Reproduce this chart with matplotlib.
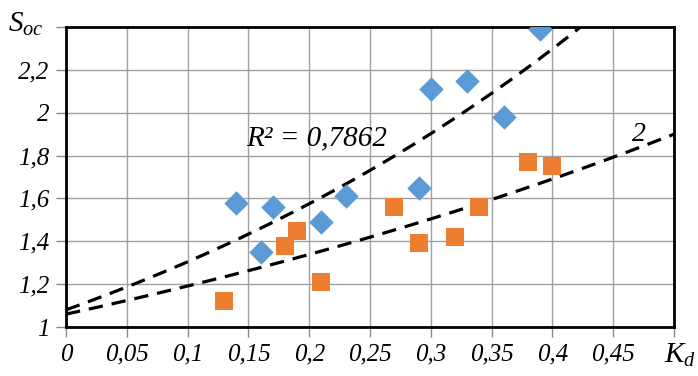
import numpy as np
import matplotlib
matplotlib.use('Agg')
from matplotlib import pyplot as plt

plt.rcParams['font.family'] = 'Liberation Serif'
plt.rcParams['font.style'] = 'italic'
plt.rcParams['mathtext.fontset'] = 'custom'
plt.rcParams['mathtext.it'] = 'Liberation Serif:italic'
plt.rcParams['mathtext.rm'] = 'Liberation Serif:italic'

# series 1 (blue diamonds)
kd_1 = [0.14, 0.16, 0.17, 0.21, 0.23, 0.29, 0.30, 0.33, 0.36, 0.39]
soc_1 = [1.58, 1.35, 1.56, 1.49, 1.61, 1.65, 2.11, 2.15, 1.98, 2.39]

# series 2 (orange squares)
kd_2 = [0.13, 0.18, 0.19, 0.21, 0.27, 0.29, 0.32, 0.34, 0.38, 0.40]
soc_2 = [1.12, 1.38, 1.45, 1.21, 1.56, 1.39, 1.42, 1.56, 1.77, 1.75]

# exponential trend lines: y = a*exp(b*x)
trend_1 = (1.08, 1.887)
trend_2 = (1.06, 1.167)

xticks = [0, 0.05, 0.1, 0.15, 0.2, 0.25, 0.3, 0.35, 0.4, 0.45]
xlabels = ['0', '0,05', '0,1', '0,15', '0,2', '0,25', '0,3', '0,35', '0,4', '0,45']
yticks = [1, 1.2, 1.4, 1.6, 1.8, 2, 2.2]
ylabels = ['1', '1,2', '1,4', '1,6', '1,8', '2', '2,2']

fig = plt.figure(figsize=(6.98, 3.76), dpi=100)
ax = fig.add_axes([0.0946, 0.1303, 0.8710, 0.7979])

xx = np.linspace(0, 0.5, 200)
dash = (0, (4.5, 2.8))
ax.plot(xx, trend_1[0] * np.exp(trend_1[1] * xx), color='black', lw=2.3,
        ls=dash, zorder=3)
ax.plot(xx, trend_2[0] * np.exp(trend_2[1] * xx), color='black', lw=2.3,
        ls=dash, zorder=3)

ax.scatter(kd_1, soc_1, marker='D', s=12.5**2, color='#5B9BD5', zorder=4, linewidths=0)
ax.scatter(kd_2, soc_2, marker='s', s=12.5**2, color='#ED7D31', zorder=4, linewidths=0)

ax.set_xlim(0, 0.5)
ax.set_ylim(1, 2.4)
ax.set_xticks(xticks + [0.5])
ax.set_xticklabels(xlabels + [''])
ax.set_yticks(yticks + [2.4])
ax.set_yticklabels(ylabels + [''])
ax.tick_params(labelsize=18, length=7, width=1, color='#888888', pad=5)
ax.grid(True, color='#a0a0a0', lw=1)
ax.set_axisbelow(True)
for s in ax.spines.values():
    s.set_linewidth(2)
    s.set_color('black')

ax.text(0.148, 1.82, 'R² = 0,7862', fontsize=21, ha='left', va='bottom')
ax.text(0.471, 1.84, '2', fontsize=20, ha='center', va='bottom')
fig.text(0.012, 0.935, r'$S_{oc}$', fontsize=21, ha='left', va='center')
fig.text(0.952, 0.055, r'$K_{d}$', fontsize=21, ha='left', va='center')

fig.savefig('out.png', dpi=100)
